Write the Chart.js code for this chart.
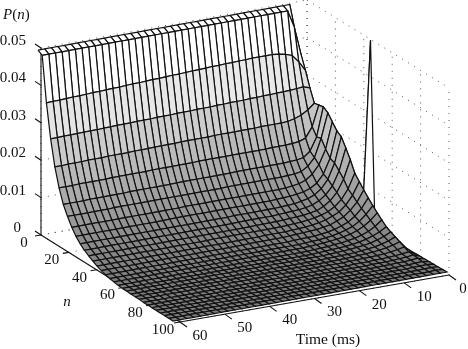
<!DOCTYPE html>
<html>
<head>
<meta charset="utf-8">
<style>
  body { margin: 0; background: #fff; }
  canvas { display: block; }
</style>
<script src="https://cdn.jsdelivr.net/npm/chart.js@4"></script>
</head>
<body>
<canvas id="surfaceChart" width="468" height="349"></canvas>
<script>
// grid of the surface
const timeValues = [60, 58.5, 57, 55.5, 54, 52.5, 51, 49.5, 48, 46.5, 45, 43.5, 42, 40.5, 39, 37.5, 36, 34.5, 33, 31.5, 30, 28.5, 27, 25.5, 24, 22.5, 21, 19.5, 18, 16.5, 15, 13.5, 12, 10.5, 9, 7.5, 6, 4.5, 3, 1.5, 0];
const nValues = [0, 3.125, 6.25, 9.375, 12.5, 15.625, 18.75, 21.875, 25, 28.125, 31.25, 34.375, 37.5, 40.625, 43.75, 46.875, 50, 53.125, 56.25, 59.375, 62.5, 65.625, 68.75, 71.875, 75, 78.125, 81.25, 84.375, 87.5, 90.625, 93.75, 96.875, 100];

// P(n) x 10000, one row per n, one column per time value
const pByRow = [
  [497,497,497,497,497,497,497,497,497,497, 497,497,497,497,497,497,497,497,497,497, 497,497,497,497,497,497,497,497,497,497, 497,497,497,497,497,497,497,497,497,407, 0],
  [490,490,490,490,490,490,490,490,490,490, 490,490,490,490,490,490,490,490,490,490, 490,490,490,490,490,490,490,490,490,490, 490,490,490,490,490,490,490,490,444,369, 0],
  [370,371,371,372,373,373,374,375,375,376, 377,377,378,379,379,380,381,381,382,383, 383,384,385,385,386,387,387,388,388,389, 389,390,390,390,390,388,384,378,358,332, 0],
  [281,281,282,282,282,283,283,283,284,284, 285,285,285,286,286,286,287,287,287,288, 288,288,289,289,289,290,290,291,291,291, 292,292,293,293,294,294,295,296,298,292, 0],
  [213,213,214,214,214,215,215,215,216,216, 216,216,217,217,217,218,218,218,218,219, 219,219,219,219,220,220,220,220,220,220, 220,221,221,221,221,222,226,232,243,258, 0],
  [164,164,164,165,165,165,165,165,166,166, 166,166,166,166,167,167,167,167,167,167, 167,168,168,168,168,168,168,168,168,168, 168,168,169,169,169,170,172,178,205,260, 0],
  [127,127,127,127,128,128,128,128,128,128, 129,129,129,129,129,129,129,130,130,130, 130,130,130,130,130,130,131,131,131,131, 131,131,131,131,132,133,136,150,185,262, 0],
  [102,102,102,102,102,102,102,103,103,103, 103,103,103,103,103,103,103,103,103,103, 103,103,103,103,104,104,104,104,104,104, 104,104,104,105,106,109,120,140,188,253, 0],
  [80,80,80,80,80,80,80,80,80,80, 80,80,80,80,80,80,80,81,81,81, 81,81,81,81,81,81,81,81,81,81, 81,81,82,84,87,93,106,128,166,236, 0],
  [63,63,63,63,63,63,63,63,63,63, 63,63,63,63,64,64,64,64,64,64, 64,64,64,64,64,64,64,64,64,64, 65,66,67,69,72,78,89,110,149,219, 0],
  [50,50,50,50,50,50,50,50,50,50, 50,50,50,50,50,50,50,50,50,50, 50,50,50,51,51,51,51,51,51,51, 52,53,54,57,61,68,81,103,143,210, 0],
  [40,40,40,40,40,40,40,40,40,40, 40,40,40,40,40,40,40,40,40,40, 40,40,40,41,41,41,41,41,41,42, 43,44,45,47,51,59,72,92,129,187, 0],
  [32,32,32,32,32,32,32,32,32,32, 32,32,32,32,32,32,32,32,32,32, 32,32,32,32,32,33,33,33,33,34, 35,36,37,40,43,51,63,82,114,163, 0],
  [25,25,25,25,25,25,25,25,25,25, 25,25,25,25,25,25,25,25,26,26, 26,26,26,26,26,26,26,26,26,27, 28,29,31,34,38,44,54,70,95,134, 0],
  [19,19,19,19,19,19,19,19,19,19, 19,19,19,19,19,19,19,19,19,19, 19,19,19,19,19,20,20,20,20,21, 22,23,25,28,32,39,47,62,85,118, 0],
  [14,14,14,14,14,14,14,14,14,14, 14,14,14,14,14,14,14,14,14,14, 14,14,15,15,15,15,15,15,16,17, 18,19,20,23,26,33,41,55,74,103, 500],
  [10,10,10,10,10,10,10,10,10,10, 10,10,10,10,10,10,10,10,10,10, 10,10,10,10,10,10,10,10,11,12, 12,13,15,17,21,27,34,46,64,89, 0],
  [7,7,7,7,7,7,7,7,7,7, 7,7,7,7,7,7,7,7,7,7, 7,7,7,7,7,7,7,7,7,8, 9,10,12,14,18,23,29,40,55,75, 0],
  [5,5,5,5,5,5,5,5,5,5, 5,5,5,5,5,5,5,5,5,5, 5,5,5,5,5,5,5,5,5,6, 7,8,10,12,15,19,25,34,46,63, 0],
  [3,3,3,3,3,3,3,3,3,3, 3,3,3,3,3,3,3,3,3,3, 3,3,3,3,3,3,3,3,3,4, 5,6,8,9,12,15,20,27,37,51, 0],
  [2,2,2,2,2,2,2,2,2,2, 2,2,2,2,2,2,2,2,2,2, 2,2,2,2,2,2,2,2,2,3, 4,5,6,7,9,12,16,22,29,40, 0],
  [2,2,2,2,2,2,2,2,2,2, 2,2,2,2,2,2,2,2,2,2, 2,2,2,2,2,2,2,2,2,2, 3,4,5,6,8,10,13,18,24,33, 0],
  [1,1,1,1,1,1,1,1,1,1, 1,1,1,1,1,1,1,1,1,1, 1,1,1,1,1,1,1,1,1,2, 2,3,3,4,6,8,10,14,19,27, 0],
  [1,1,1,1,1,1,1,1,1,1, 1,1,1,1,1,1,1,1,1,1, 1,1,1,1,1,1,1,1,1,1, 2,2,3,4,5,6,8,11,15,21, 0],
  [1,1,1,1,1,1,1,1,1,1, 1,1,1,1,1,1,1,1,1,1, 1,1,1,1,1,1,1,1,1,1, 1,2,2,3,3,4,5,7,10,14, 0],
  [0,0,0,0,0,0,0,0,0,0, 0,0,0,0,0,0,0,0,0,0, 0,0,0,0,0,0,0,0,0,0, 0,1,1,1,2,2,3,4,6,8, 0],
  [0,0,0,0,0,0,0,0,0,0, 0,0,0,0,0,0,0,0,0,0, 0,0,0,0,0,0,0,0,0,0, 0,0,0,1,1,1,2,3,4,7, 0],
  [0,0,0,0,0,0,0,0,0,0, 0,0,0,0,0,0,0,0,0,0, 0,0,0,0,0,0,0,0,0,0, 0,0,0,0,1,1,2,2,3,5, 0],
  [0,0,0,0,0,0,0,0,0,0, 0,0,0,0,0,0,0,0,0,0, 0,0,0,0,0,0,0,0,0,0, 0,0,0,0,0,0,1,1,2,3, 0],
  [0,0,0,0,0,0,0,0,0,0, 0,0,0,0,0,0,0,0,0,0, 0,0,0,0,0,0,0,0,0,0, 0,0,0,0,0,0,0,1,1,2, 0],
  [0,0,0,0,0,0,0,0,0,0, 0,0,0,0,0,0,0,0,0,0, 0,0,0,0,0,0,0,0,0,0, 0,0,0,0,0,0,0,0,1,1, 0],
  [0,0,0,0,0,0,0,0,0,0, 0,0,0,0,0,0,0,0,0,0, 0,0,0,0,0,0,0,0,0,0, 0,0,0,0,0,0,0,0,0,1, 0],
  [0,0,0,0,0,0,0,0,0,0, 0,0,0,0,0,0,0,0,0,0, 0,0,0,0,0,0,0,0,0,0, 0,0,0,0,0,0,0,0,0,0, 0],
];

// axis ticks
const pTicks = [0, 0.01, 0.02, 0.03, 0.04, 0.05];
const pTickLabels = ["0", "0.01", "0.02", "0.03", "0.04", "0.05"];
const nTicks = [0, 20, 40, 60, 80, 100];
const timeTicks = [60, 50, 40, 30, 20, 10, 0];

// floor corners of the box: [t=60,n=0], [t=60,n=100], [t=0,n=100], [t=0,n=0]
const axisBox = [[41, 235], [180, 322], [449, 275], [307, 187]];
// the mesh sits slightly off the box
const meshBox = [[38, 236], [173, 321], [447, 272], [303, 188]];
const PX_PER_P = 3740;

const project = (box, t, n, p) => {
  const u = (60 - t) / 60;
  const v = n / 100;
  const lerp = (k) =>
    (1 - u) * ((1 - v) * box[0][k] + v * box[1][k]) +
    u * ((1 - v) * box[3][k] + v * box[2][k]);
  return { x: lerp(0), y: lerp(1) - p * PX_PER_P };
};

const segment = (points, color, width, dash) => ({
  data: points,
  showLine: true,
  fill: false,
  borderColor: color,
  borderWidth: width,
  borderDash: dash || [],
  pointRadius: 0,
  tension: 0,
});

const datasets = [];

// mesh, nearest cell first because the first dataset is painted last
for (let i = nValues.length - 2; i >= 0; i--) {
  for (let j = 0; j < timeValues.length - 1; j++) {
    const corners = [
      [i, j],
      [i + 1, j],
      [i + 1, j + 1],
      [i, j + 1],
      [i, j],
    ];
    const pts = corners.map(([a, b]) =>
      project(meshBox, timeValues[b], nValues[a], pByRow[a][b] / 10000)
    );
    const top = Math.max(...corners.map(([a, b]) => pByRow[a][b] / 10000));
    const g = Math.min(255, Math.round(125 + 2780 * top));
    datasets.push({
      ...segment(pts, "#111", 1.2),
      fill: "shape",
      backgroundColor: `rgb(${g},${g},${g})`,
    });
  }
}

// solid axes and ticks
const axisInk = "#111";
const box3 = (t, n, p) => project(axisBox, t, n, p);
datasets.push(segment([box3(60, 0, 0), box3(60, 0, 0.05)], axisInk, 1.1));
datasets.push(segment([box3(60, 0, 0), box3(60, 100, 0)], axisInk, 1.1));
datasets.push(segment([box3(60, 100, 0), box3(0, 100, 0)], axisInk, 1.1));
pTicks.forEach((p) => {
  const a = box3(60, 0, p);
  datasets.push(segment([a, { x: a.x - 6, y: a.y - 4 }], axisInk, 1.1));
});
nTicks.forEach((n) => {
  const a = box3(60, n, 0);
  datasets.push(segment([a, { x: a.x - 6, y: a.y + 1 }], axisInk, 1.1));
});
timeTicks.forEach((t) => {
  const a = box3(t, 100, 0);
  datasets.push(segment([a, { x: a.x + 7, y: a.y + 5 }], axisInk, 1.1));
});

// dotted grid on the two back walls and the floor
const dotInk = "#555";
const dots = [1, 6];
pTicks.forEach((p) => {
  datasets.push(segment([box3(60, 0, p), box3(0, 0, p)], dotInk, 1, dots));
  datasets.push(segment([box3(0, 0, p), box3(0, 100, p)], dotInk, 1, dots));
});
timeTicks.forEach((t) => {
  datasets.push(segment([box3(t, 0, 0), box3(t, 0, 0.05)], dotInk, 1, dots));
  datasets.push(segment([box3(t, 0, 0), box3(t, 100, 0)], dotInk, 1, dots));
});
nTicks.forEach((n) => {
  datasets.push(segment([box3(0, n, 0), box3(0, n, 0.05)], dotInk, 1, dots));
  datasets.push(segment([box3(60, n, 0), box3(0, n, 0)], dotInk, 1, dots));
});

// tick labels and axis titles, placed through the chart scales
const labelsPlugin = {
  id: "surfaceLabels",
  afterDatasetsDraw(chart) {
    const { ctx, scales } = chart;
    const px = (x) => scales.x.getPixelForValue(x);
    const py = (y) => scales.y.getPixelForValue(y);
    const roman = "15px 'Liberation Serif'";
    const italic = "italic 15px 'Liberation Serif'";

    ctx.save();
    ctx.fillStyle = "#111";
    ctx.textBaseline = "middle";
    ctx.font = roman;

    ctx.textAlign = "right";
    pTicks.forEach((p, idx) => {
      const a = box3(60, 0, p);
      const extra = p === 0 ? -5 : 0;
      ctx.fillText(pTickLabels[idx], px(a.x - 15 + extra), py(a.y - 7));
    });

    ctx.textAlign = "center";
    nTicks.forEach((n) => {
      const a = box3(60, n, 0);
      ctx.fillText(String(n), px(a.x - 17), py(a.y + 8));
    });
    timeTicks.forEach((t) => {
      const a = box3(t, 100, 0);
      ctx.fillText(String(t), px(a.x + (t === 0 ? 14 : 20)), py(a.y + 14));
    });

    ctx.font = "15.5px 'Liberation Serif'";
    ctx.fillText("Time (ms)", px(328), py(340));
    ctx.font = italic;
    ctx.fillText("n", px(67), py(302));

    // P(n) with mixed slopes
    ctx.textAlign = "left";
    let x = 3;
    [["P", italic], ["(", roman], ["n", italic], [")", roman]].forEach(([s, f]) => {
      ctx.font = f;
      ctx.fillText(s, px(x), py(15));
      x += ctx.measureText(s).width;
    });
    ctx.restore();
  },
};

new Chart(document.getElementById("surfaceChart").getContext("2d"), {
  type: "scatter",
  data: { datasets },
  plugins: [labelsPlugin],
  options: {
    responsive: false,
    animation: false,
    events: [],
    layout: { padding: 0 },
    plugins: { legend: { display: false }, tooltip: { enabled: false } },
    scales: {
      x: { type: "linear", min: 0, max: 468, display: false },
      y: { type: "linear", min: 0, max: 349, reverse: true, display: false },
    },
  },
});
</script>
</body>
</html>
